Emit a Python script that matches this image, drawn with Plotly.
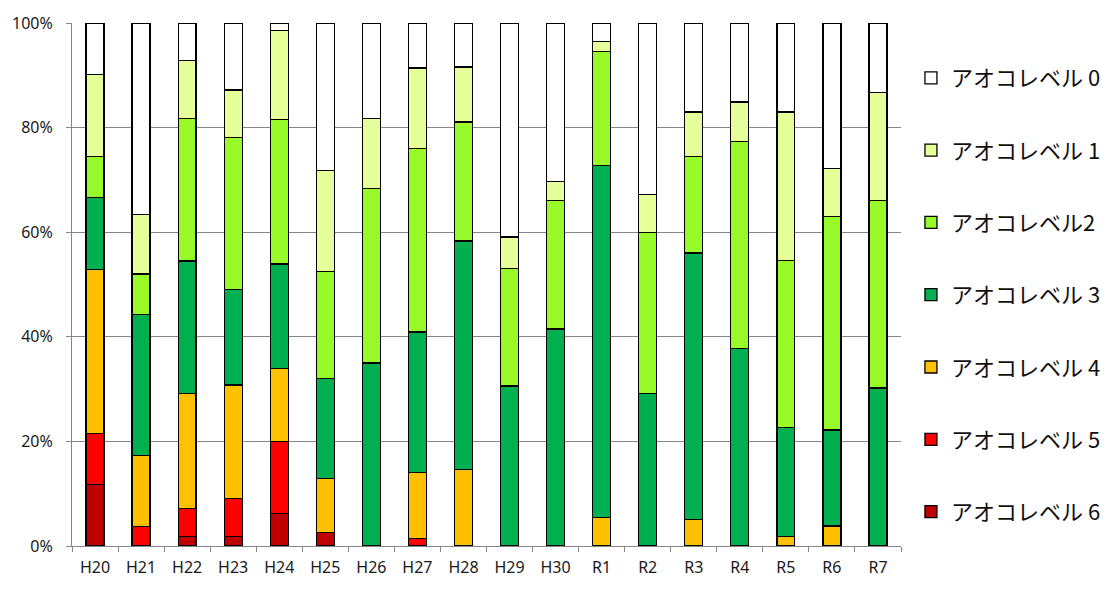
import plotly.graph_objects as go

categories = ["H20", "H21", "H22", "H23", "H24", "H25", "H26", "H27", "H28",
              "H29", "H30", "R1", "R2", "R3", "R4", "R5", "R6", "R7"]

level6 = [11.8, 0, 1.8, 1.8, 6.2, 2.6, 0, 0, 0, 0, 0, 0, 0, 0, 0, 0, 0, 0]
level5 = [9.7, 3.7, 5.4, 7.3, 13.8, 0, 0, 1.5, 0, 0, 0, 0, 0, 0, 0, 0, 0, 0]
level4 = [31.4, 13.6, 21.9, 21.7, 13.9, 10.3, 0, 12.5, 14.6, 0, 0, 5.5, 0, 5.1, 0, 1.8, 3.8, 0]
level3 = [13.7, 26.9, 25.4, 18.3, 20.0, 19.1, 35.0, 26.9, 43.7, 30.6, 41.5, 67.2, 29.1, 50.9, 37.7, 20.9, 18.4, 30.2]
level2 = [7.9, 7.8, 27.2, 29.0, 27.6, 20.5, 33.4, 35.1, 22.8, 22.5, 24.6, 21.8, 30.9, 18.5, 39.6, 31.9, 40.8, 35.9]
level1 = [15.6, 11.4, 11.1, 9.1, 17.0, 19.3, 13.3, 15.4, 10.5, 6.0, 3.6, 1.9, 7.2, 8.5, 7.6, 28.4, 9.2, 20.6]
level0 = [9.9, 36.6, 7.2, 12.8, 1.5, 28.2, 18.3, 8.6, 8.4, 40.9, 30.3, 3.6, 32.8, 17.0, 15.1, 17.0, 27.8, 13.3]

series_names = ["アオコレベル 6", "アオコレベル 5", "アオコレベル 4", "アオコレベル 3",
                "アオコレベル2", "アオコレベル 1", "アオコレベル 0"]
series_values = [level6, level5, level4, level3, level2, level1, level0]
series_colors = ["#C00000", "#FF0000", "#FFC000", "#00B050", "#99FA2A", "#E5FF99", "#FFFFFF"]

fig = go.Figure()
for i, (name, vals, col) in enumerate(zip(series_names, series_values, series_colors)):
    fig.add_trace(go.Bar(
        x=categories, y=vals, name=name, legendgroup=name,
        legendrank=100 - i,
        marker=dict(color=col, line=dict(color="#000000", width=1.3)),
        width=0.39,
    ))

fig.update_layout(
    barmode="stack",
    barnorm="percent",
    width=1118, height=603,
    margin=dict(l=72, r=217, t=21, b=57),
    paper_bgcolor="white", plot_bgcolor="white",
    font=dict(family="Noto Sans, Noto Sans CJK JP", size=16, color="#1a1a1a"),
    legend=dict(
        x=1.012, xanchor="left", y=0.935, yanchor="top",
        traceorder="grouped", tracegroupgap=40.7,
        font=dict(family="Noto Sans CJK JP", size=22, color="#111111"),
        bgcolor="rgba(0,0,0,0)",
    ),
    showlegend=True,
)
fig.update_xaxes(
    type="category", showline=True, linecolor="#868686", linewidth=1,
    ticks="outside", tickson="boundaries", ticklen=5, tickcolor="#868686",
    showgrid=False, tickfont=dict(size=16), ticklabelstandoff=7,
)
fig.update_yaxes(
    range=[0, 100], tickvals=[0, 20, 40, 60, 80, 100], ticktext=["0%", "20%", "40%", "60%", "80%", "100%"],
    showline=True, linecolor="#868686", linewidth=1,
    ticks="outside", ticklen=5, tickcolor="#868686",
    showgrid=True, gridcolor="#868686", gridwidth=1, zeroline=False,
    tickfont=dict(size=16), ticklabelstandoff=10,
)

fig.write_html("out.html")
